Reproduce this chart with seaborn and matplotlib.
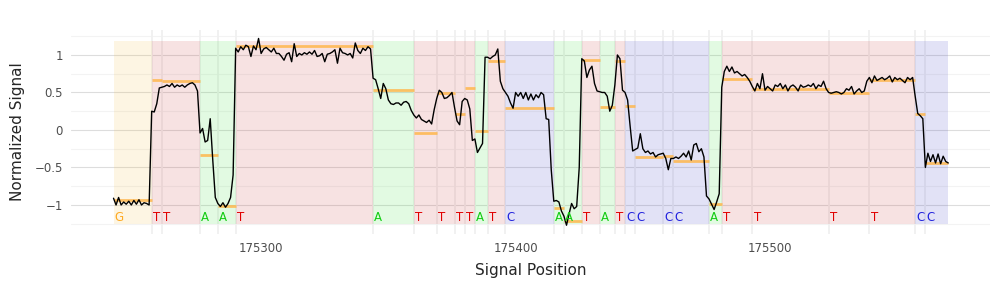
import numpy as np
import pandas as pd
import seaborn as sns
import matplotlib.pyplot as plt
import matplotlib.patches as mpatches

# base calls: segment start positions and base letters
seg_start = [175242, 175257, 175261, 175276, 175283, 175290, 175344, 175360, 175369, 175376,
             175380, 175384, 175389, 175396, 175415, 175419, 175426, 175433, 175439, 175443,
             175447, 175458, 175462, 175476, 175481, 175493, 175523, 175539, 175557, 175561]
seg_end_last = 175570
bases = ['G', 'T', 'T', 'A', 'A', 'T', 'A', 'T', 'T', 'T',
         'T', 'A', 'T', 'C', 'A', 'A', 'T', 'A', 'T', 'C',
         'C', 'C', 'C', 'A', 'T', 'T', 'T', 'T', 'C', 'C']
seg_mean = [-0.93, 0.667, 0.653, -0.333, -1.02, 1.124, 0.533, -0.035, 0.498, 0.213,
            0.56, -0.02, 0.924, 0.293, -1.04, -1.21, 0.933, 0.307, 0.924, 0.32,
            -0.356, -0.347, -0.409, -0.987, 0.68, 0.547, 0.498, 0.667, 0.213, -0.436]

# normalized signal, one value per signal position starting at seg_start[0]
signal = [
    -0.91, -1.0, -0.9, -1.0, -0.96, -0.99, -0.95, -1.0, -0.94, -0.99, -0.93, -1.0, -0.97, -0.98, -1.0,
    0.25, 0.24, 0.35, 0.56,
    0.57, 0.58, 0.6, 0.58, 0.62, 0.57, 0.6, 0.58, 0.6, 0.57, 0.6, 0.62, 0.63, 0.6, 0.52,
    -0.04, 0.02, -0.16, -0.14, 0.15, -0.4, -0.9,
    -0.98, -1.02, -0.97, -1.03, -0.98, -0.9, -0.6,
    1.09, 1.04, 1.11, 1.07, 1.13, 1.11, 0.98, 1.12, 1.07, 1.22, 1.02, 1.08, 1.1, 1.07, 1.04, 1.09,
    1.02, 1.02, 0.98, 0.93, 1.01, 1.03, 0.91, 1.15, 0.98, 1.02, 1.0, 1.03, 1.01, 1.04, 1.01, 1.06,
    0.98, 0.99, 1.02, 0.91, 1.01, 1.02, 1.04, 1.07, 0.89, 1.09, 1.03, 1.02, 1.0, 1.02, 0.96, 1.16,
    1.06, 1.02, 1.09, 1.06, 1.11, 1.08,
    0.69, 0.67, 0.55, 0.42, 0.62, 0.55, 0.4, 0.35, 0.34, 0.36, 0.36, 0.33, 0.37, 0.38, 0.35, 0.26,
    0.2, 0.16, 0.2, 0.14, 0.12, 0.1, 0.13, 0.08, 0.27,
    0.42, 0.53, 0.5, 0.42, 0.43, 0.46, 0.5,
    0.3, 0.12, 0.07, 0.38,
    0.42, 0.4, 0.28, -0.14,
    -0.12, -0.3, -0.24, -0.18, 0.97,
    0.97, 0.95, 0.98, 1.0, 1.08, 0.65, 0.55,
    0.5, 0.45, 0.36, 0.29, 0.5, 0.45, 0.5, 0.42, 0.5, 0.4, 0.48, 0.4, 0.47, 0.43, 0.5, 0.47, 0.15, 0.14, -0.53,
    -0.95, -0.94, -0.96, -1.08,
    -1.15, -1.27, -1.12, -0.98, -1.05, -1.02, -0.5,
    0.95, 0.92, 0.7, 0.8, 0.85, 0.62, 0.52,
    0.51, 0.5, 0.5, 0.45, 0.25, 0.33,
    0.6, 1.0, 0.95, 0.53,
    0.5, 0.4, 0.05, -0.28,
    -0.26, -0.24, -0.05, -0.25, -0.3, -0.28, -0.32, -0.3, -0.36, -0.33, -0.32,
    -0.31, -0.38, -0.53, -0.38,
    -0.38, -0.36, -0.38, -0.35, -0.31, -0.36, -0.28, -0.4, -0.2, -0.18, -0.29, -0.25, -0.36, -0.88,
    -0.92, -0.99, -1.06, -0.96, -0.85,
    0.57, 0.78, 0.85, 0.78, 0.84, 0.76, 0.78, 0.75, 0.72, 0.74, 0.7, 0.65,
    0.58, 0.52, 0.62, 0.55, 0.75, 0.53, 0.58, 0.55, 0.52, 0.6, 0.58, 0.62, 0.55, 0.6, 0.52,
    0.58, 0.6, 0.57, 0.52, 0.6, 0.57, 0.58, 0.6, 0.58, 0.62, 0.55, 0.6, 0.58, 0.65, 0.55,
    0.5, 0.49, 0.5, 0.51, 0.5, 0.48, 0.5, 0.55, 0.53, 0.58, 0.48, 0.52, 0.55, 0.5, 0.52, 0.65,
    0.7, 0.63, 0.72, 0.66, 0.68, 0.7, 0.67, 0.69, 0.72, 0.64, 0.7, 0.67, 0.69, 0.66, 0.63, 0.7, 0.67, 0.7,
    0.45, 0.22, 0.19, 0.15,
    -0.5, -0.31, -0.42, -0.33, -0.44, -0.32, -0.45, -0.35, -0.42, -0.44,
]

x_ticks = [175300, 175400, 175500]
y_ticks = [-1, -0.5, 0, 0.5, 1]
y_minor = [-1.25, -0.75, -0.25, 0.25, 0.75, 1.25]

base_fill = {'A': '#3EE13E', 'C': '#3E3EC3', 'G': '#F2BC44', 'T': '#CA3E3E'}
base_text = {'A': '#11CC11', 'C': '#2222DD', 'G': '#FFAA22', 'T': '#E00000'}

sns.set_theme(style='white')
plt.rcParams['font.family'] = ['DejaVu Sans']

fig = plt.figure(figsize=(10, 3), dpi=100)
ax = fig.add_axes([0.071, 0.22, 0.919, 0.68])

seg_end = seg_start[1:] + [seg_end_last]
df = pd.DataFrame({'pos': np.arange(len(signal)) + seg_start[0], 'signal': signal})

# grid
for y in y_minor:
    ax.axhline(y, color='#F3F3F3', lw=0.8, zorder=0)
for y in y_ticks:
    ax.axhline(y, color='#DDDDDD', lw=0.8, zorder=0)
ax.vlines(seg_start[1:], -1.387, 1.333, color='#F0F0F0', lw=1.3, zorder=0)

# base background rectangles
for s, e, b in zip(seg_start, seg_end, bases):
    ax.add_patch(mpatches.Rectangle((s, -1.25), e - s, 2.44, facecolor=base_fill[b],
                                    alpha=0.15, edgecolor='none', zorder=1))

# segment means
ax.hlines(seg_mean, seg_start, seg_end, color='#FFB74D', lw=2, alpha=0.85, zorder=2)

sns.lineplot(data=df, x='pos', y='signal', color='black', lw=1, ax=ax, zorder=3)

for s, b in zip(seg_start, bases):
    ax.text(s + 0.5, -1.17, b, color=base_text[b], fontsize=8.5, ha='left', va='center', zorder=4)

ax.set_xlim(175225.3, 175586.4)
ax.set_ylim(-1.387, 1.333)
ax.set_xticks(x_ticks)
ax.set_xticklabels([str(t) for t in x_ticks])
ax.set_yticks(y_ticks)
ax.set_yticklabels(['\u22121', '\u22120.5', '0', '0.5', '1'])
ax.tick_params(axis='both', length=0, labelsize=8.5, labelcolor='#4D4D4D')
ax.tick_params(axis='x', pad=5.5)
ax.tick_params(axis='y', pad=5.8)
ax.set_xlabel('Signal Position', fontsize=11, labelpad=6)
ax.set_ylabel('Normalized Signal', fontsize=11, labelpad=7)
ax.grid(False)
sns.despine(ax=ax, left=True, bottom=True)

fig.savefig('out.png', dpi=100)
